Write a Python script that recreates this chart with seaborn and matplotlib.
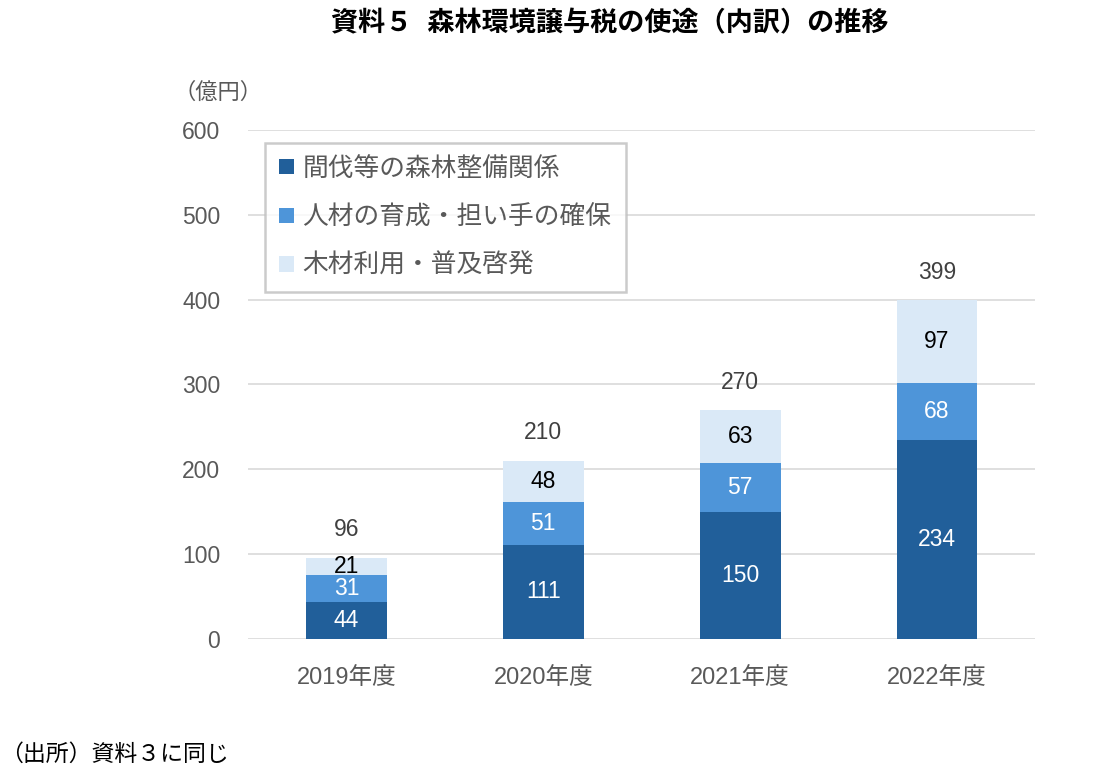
import pandas as pd
import numpy as np
import matplotlib
matplotlib.use('Agg')
import matplotlib.pyplot as plt
import seaborn as sns

# データ（億円）
years = ['2019年度', '2020年度', '2021年度', '2022年度']
seibi = [44, 111, 150, 234]      # 間伐等の森林整備関係
jinzai = [31, 51, 57, 68]        # 人材の育成・担い手の確保
mokuzai = [21, 48, 63, 97]       # 木材利用・普及啓発
totals = [96, 210, 270, 399]
series_names = ['間伐等の森林整備関係', '人材の育成・担い手の確保', '木材利用・普及啓発']
colors = ['#215F9A', '#4E95D9', '#DAE9F7']
label_colors = ['white', 'white', 'black']

sns.set_theme(style='white')
plt.rcParams['font.family'] = ['Liberation Sans', 'Noto Sans CJK JP', 'DejaVu Sans']

fig = plt.figure(figsize=(11.17, 7.75), dpi=100)
ax = fig.add_axes([0.222, 0.1755, 0.705, 0.657])

df = pd.DataFrame({'year': years, 'seibi': seibi, 'jinzai': jinzai, 'mokuzai': mokuzai})
layers = ['seibi', 'jinzai', 'mokuzai']
bottom = np.zeros(len(years))
for col, name, c, lc in zip(layers, series_names, colors, label_colors):
    sns.barplot(data=df, x='year', y=col, bottom=bottom, color=c, width=0.41,
                label=name, ax=ax, saturation=1, linewidth=0, zorder=3)
    for i, v in enumerate(df[col]):
        ax.text(i, bottom[i] + v / 2, str(v), ha='center', va='center',
                fontsize=16.5, color=lc, zorder=4)
    bottom = bottom + df[col].values

# 合計ラベル
for i, t in enumerate(totals):
    ax.annotate(str(t), (i, t), xytext=(0, 20), textcoords='offset points',
                ha='center', va='center', fontsize=16.5, color='#404040')

ax.set_ylim(0, 600)
ax.set_yticks(range(0, 601, 100))
ax.set_xlim(-0.5, 3.5)
ax.grid(axis='y', color='#D9D9D9', linewidth=1.2, zorder=0)
ax.set_axisbelow(True)
for s in ax.spines.values():
    s.set_visible(False)
ax.tick_params(axis='x', length=0, labelsize=17, colors='#595959', pad=20)
ax.tick_params(axis='y', length=0, labelsize=16.5, colors='#595959', pad=20)
ax.set_xlabel('')
ax.set_ylabel('')

leg = ax.legend(loc='upper left', bbox_to_anchor=(0.022, 0.975), fontsize=18.5,
                frameon=True, fancybox=False, edgecolor='#BFBFBF',
                handlelength=0.55, handleheight=0.55, handletextpad=0.35,
                labelspacing=0.95, borderpad=0.55, borderaxespad=0,
                labelcolor='#595959')
leg.get_frame().set_linewidth(1.8)

fig.text(0.546, 0.969, '資料５  森林環境譲与税の使途（内訳）の推移', ha='center', va='center',
         fontsize=19.5, fontweight='bold', color='black')
fig.text(0.195, 0.879, '（億円）', ha='center', va='center', fontsize=16, color='#595959')
fig.text(0.0, 0.027, '（出所）資料３に同じ', ha='left', va='center', fontsize=16.5, color='black')

fig.savefig('out.png', dpi=100)
